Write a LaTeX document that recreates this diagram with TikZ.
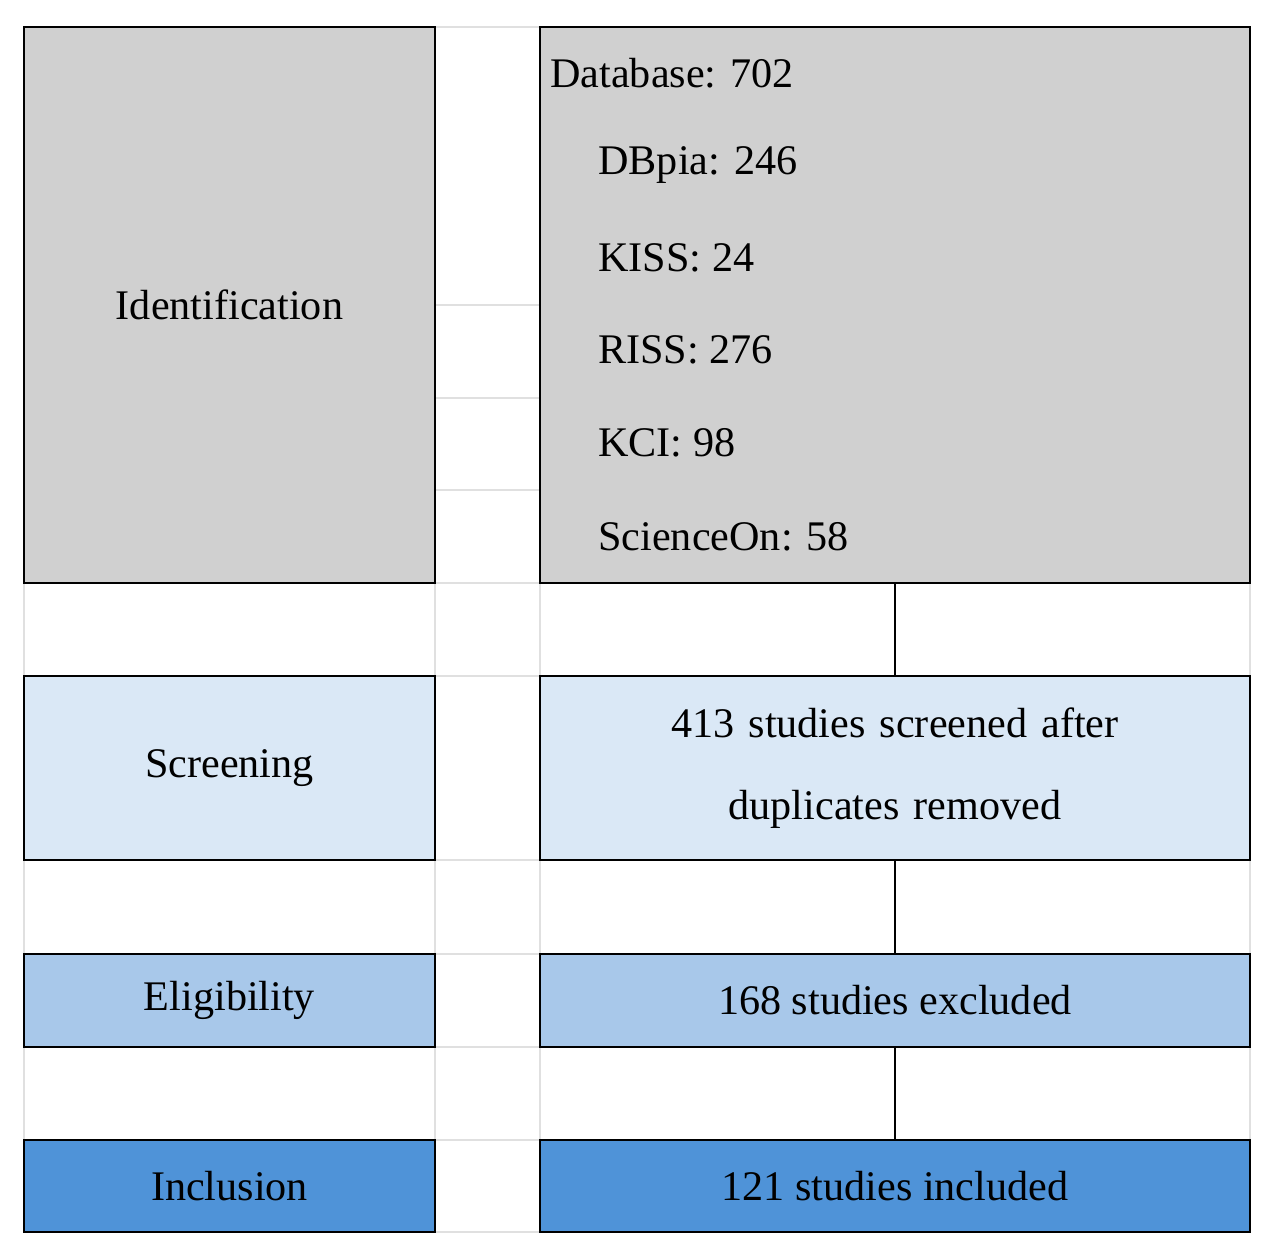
\documentclass[tikz,border=0pt]{standalone}
\usepackage{fontspec}
\setmainfont{Liberation Serif}
\usetikzlibrary{positioning}
\definecolor{idgray}{HTML}{D0D0D0}
\definecolor{scrblue}{HTML}{DAE8F6}
\definecolor{eliblue}{HTML}{A8C8EA}
\definecolor{incblue}{HTML}{4F93D8}
\tikzset{
  cell/.style={draw=black, line width=1.6pt, inner sep=0pt, font=\fontsize{24}{28}\selectfont},
  grid/.style={draw=black!12, line width=0.8pt},
  entry/.style={anchor=west, inner sep=0pt, font=\fontsize{24}{28}\selectfont},
  link/.style={draw, line width=1.6pt}
}
\begin{document}
\begin{tikzpicture}[x=0.02cm, y=-0.02cm]
    \useasboundingbox (0,0) rectangle (1280,1257);

      % Faint spreadsheet grid.
      \foreach \y in {27,305,398,490} \draw[grid] (435,\y) -- (540,\y);
      \foreach \y in {583,676,860,954,1047,1140,1232} \draw[grid] (24,\y) -- (1250,\y);
      \foreach \x in {24,435,540,1250} \draw[grid] (\x,27) -- (\x,1232);

      % Stage boxes.
      \node[cell, fill=idgray, minimum width=411*0.02cm, minimum height=556*0.02cm] (ident) at (229.5,305) {Identification};
      \node[cell, fill=scrblue, minimum width=411*0.02cm, minimum height=184*0.02cm] (screen) at (229.5,768) {Screening};
      \node[cell, fill=eliblue, minimum width=411*0.02cm, minimum height=93*0.02cm] (elig) at (229.5,1000.5) {Eligibility};
      \node[cell, fill=incblue, minimum width=411*0.02cm, minimum height=92*0.02cm] (incl) at (229.5,1186) {Inclusion};

      % Result boxes.
      \node[cell, fill=idgray, minimum width=710*0.02cm, minimum height=556*0.02cm] (db) at (895,305) {};
      \node[cell, fill=scrblue, minimum width=710*0.02cm, minimum height=184*0.02cm, align=center, text width=690*0.02cm, font=\fontsize{24}{47}\selectfont] (scrres) at (895,768) {413 studies screened after\\duplicates removed};
      \node[cell, fill=eliblue, minimum width=710*0.02cm, minimum height=93*0.02cm] (elires) at (895,1000.5) {168 studies excluded};
      \node[cell, fill=incblue, minimum width=710*0.02cm, minimum height=92*0.02cm] (incres) at (895,1186) {121 studies included};

      % Database counts.
      \node[entry] (dbtotal) at (550,73) {Database: 702};
      \node[entry] (dbpia) at (598,165) {DBpia: 246};
      \node[entry] (kiss) at (598,258) {KISS: 24};
      \node[entry] (riss) at (598,350) {RISS: 276};
      \node[entry] (kci) at (598,443) {KCI: 98};
      \node[entry] (scion) at (598,537) {ScienceOn: 58};

      % Connectors.
      \draw[link] (db.south) -- (scrres.north);
      \draw[link] (scrres.south) -- (elires.north);
      \draw[link] (elires.south) -- (incres.north);
\end{tikzpicture}
\end{document}
